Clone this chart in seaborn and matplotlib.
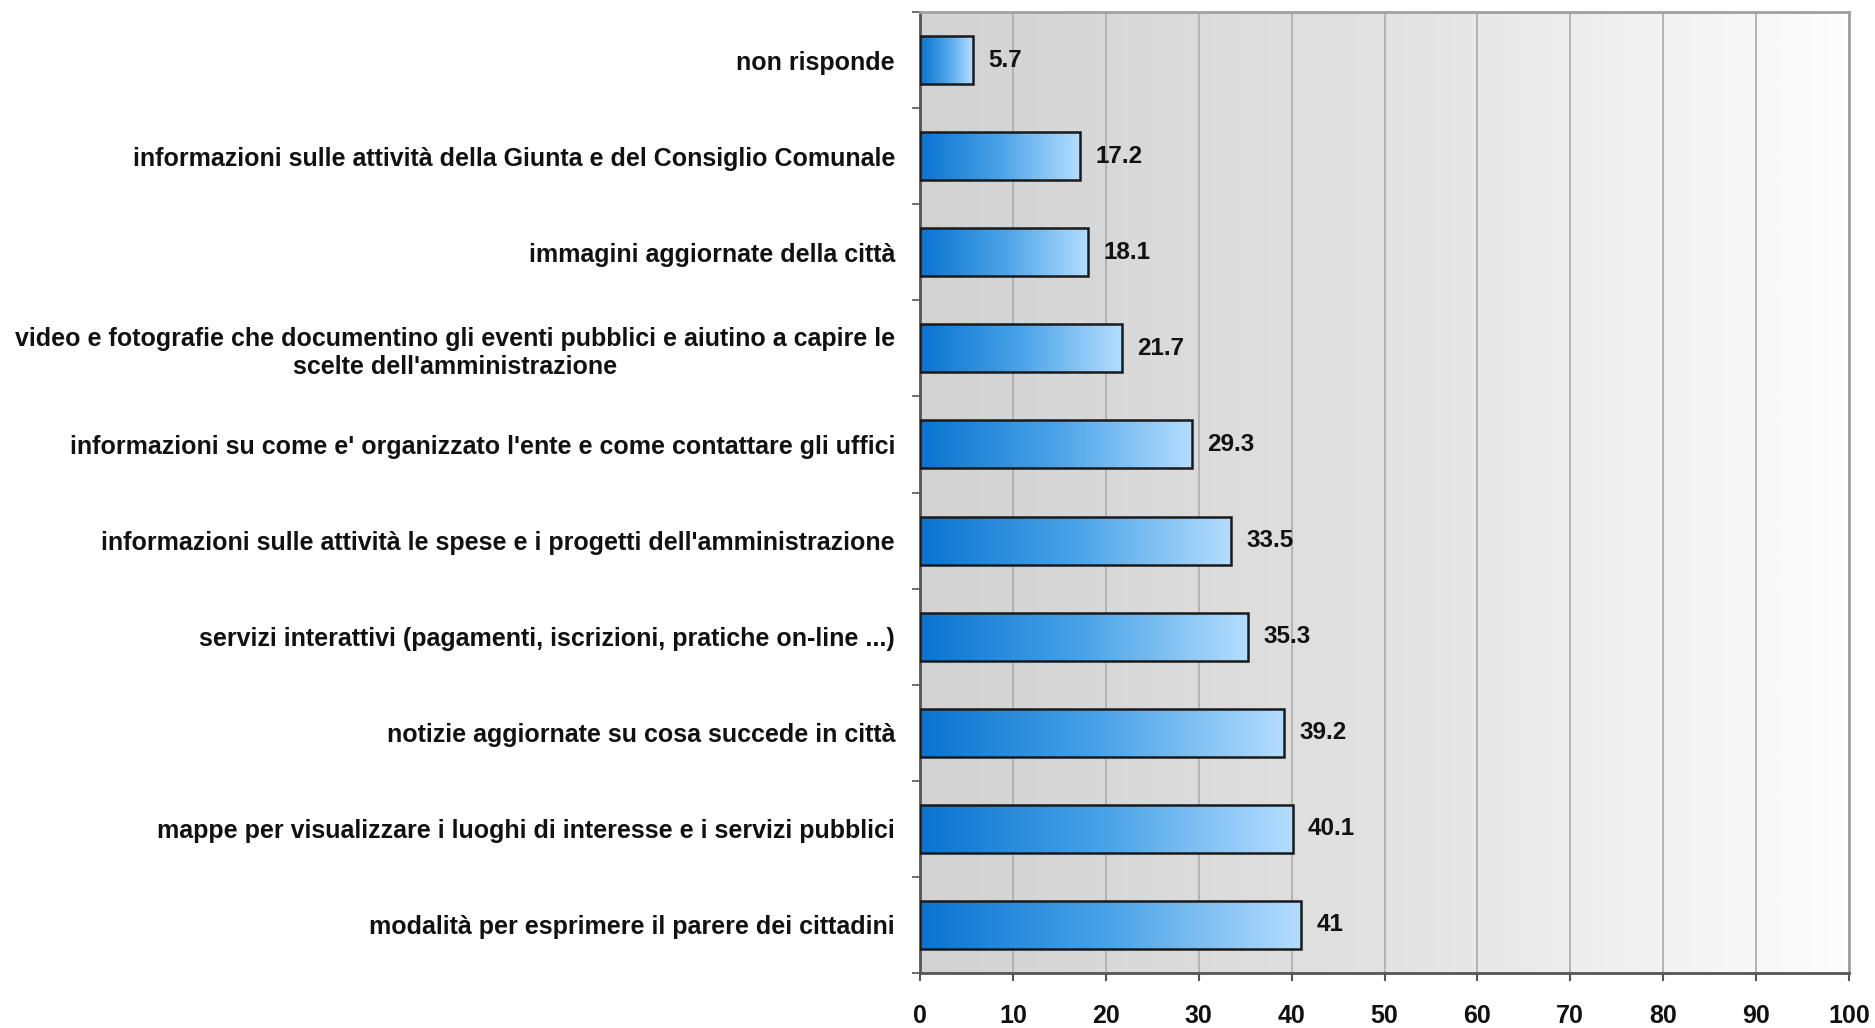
import numpy as np
import pandas as pd
import matplotlib
matplotlib.use("Agg")
import matplotlib.pyplot as plt
import seaborn as sns
from matplotlib.colors import LinearSegmentedColormap

categories = [
    "non risponde",
    "informazioni sulle attività della Giunta e del Consiglio Comunale",
    "immagini aggiornate della città",
    "video e fotografie che documentino gli eventi pubblici e aiutino a capire le\nscelte dell'amministrazione",
    "informazioni su come e' organizzato l'ente e come contattare gli uffici",
    "informazioni sulle attività le spese e i progetti dell'amministrazione",
    "servizi interattivi (pagamenti, iscrizioni, pratiche on-line ...)",
    "notizie aggiornate su cosa succede in città",
    "mappe per visualizzare i luoghi di interesse e i servizi pubblici",
    "modalità per esprimere il parere dei cittadini",
]
values = [5.7, 17.2, 18.1, 21.7, 29.3, 33.5, 35.3, 39.2, 40.1, 41]
value_labels = ["5.7", "17.2", "18.1", "21.7", "29.3", "33.5", "35.3", "39.2", "40.1", "41"]
x_ticks = [0, 10, 20, 30, 40, 50, 60, 70, 80, 90, 100]

sns.set_style("white")
plt.rcParams['font.family'] = ['Liberation Sans', 'DejaVu Sans']
plt.rcParams['font.weight'] = 'bold'

df = pd.DataFrame({"cat": categories, "val": values})

fig, ax = plt.subplots(figsize=(18.75, 10.28), dpi=100)
fig.subplots_adjust(left=0.4907, right=0.9861, top=0.9883, bottom=0.0535)

sns.barplot(data=df, y="cat", x="val", orient="h", ax=ax, width=0.5,
            color="#3a9be6", edgecolor="#1a1a1a", linewidth=1.8, zorder=3)

ax.set_xlim(0, 100)
ax.set_ylim(len(categories) - 0.5, -0.5)

# background gradient
bg = LinearSegmentedColormap.from_list("bg", ["#d2d2d2", "#e2e2e2", "#fdfdfd"])
grad = np.linspace(0, 1, 256).reshape(1, -1)
ax.imshow(grad, cmap=bg, aspect="auto", extent=[0, 100, len(categories) - 0.5, -0.5],
          zorder=0, interpolation="bicubic")

# bar gradients
barcm = LinearSegmentedColormap.from_list("bar", ["#0a74d0", "#4aa3e8", "#b4ddff"])
for p in ax.patches:
    x0, y0 = p.get_x(), p.get_y()
    w, h = p.get_width(), p.get_height()
    im = ax.imshow(grad, cmap=barcm, aspect="auto", extent=[x0, x0 + w, y0 + h, y0],
                   zorder=3.5, interpolation="bicubic")
    im.set_clip_path(p)
    p.set_facecolor("none")
    p.set_zorder(4)

ax.set_xlim(0, 100)
ax.set_ylim(len(categories) - 0.5, -0.5)

for i, (v, lab) in enumerate(zip(values, value_labels)):
    ax.annotate(lab, (v, i), xytext=(11, 0), textcoords="offset points",
                ha="left", va="center", fontsize=17.5, fontweight="bold", color="#111111", zorder=5)

ax.set_xticks(x_ticks)
ax.set_xticklabels([str(t) for t in x_ticks], fontsize=18, fontweight="bold", color="#111111")
ax.xaxis.grid(True, color="#b0b0b0", linewidth=1.3, zorder=1)
ax.set_axisbelow(True)
ax.tick_params(axis="x", length=6, width=1.5, color="#555555", direction="out", pad=16, bottom=True)

ax.set_yticks(range(len(categories)))
ax.set_yticklabels(categories, fontsize=18, fontweight="bold", color="#111111")
for t in ax.get_yticklabels():
    t.set_multialignment("center")
ax.tick_params(axis="y", length=0, pad=18)
ax.set_yticks(np.arange(-0.5, len(categories), 1.0), minor=True)
ax.tick_params(axis="y", which="minor", length=6, width=1.2, color="#555555", direction="out", left=True)

ax.set_xlabel("")
ax.set_ylabel("")

for s in ["left", "bottom"]:
    ax.spines[s].set_color("#555555")
    ax.spines[s].set_linewidth(2)
for s in ["top", "right"]:
    ax.spines[s].set_color("#a0a0a0")
    ax.spines[s].set_linewidth(2)
    ax.spines[s].set_visible(True)

fig.savefig("out.png", dpi=100)
